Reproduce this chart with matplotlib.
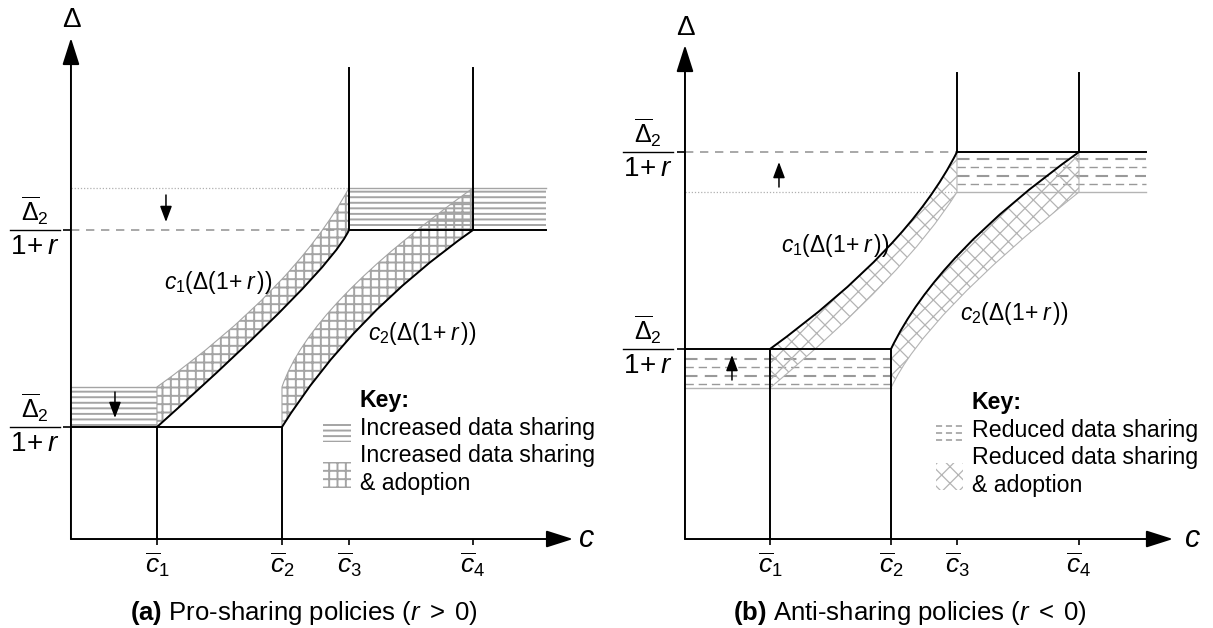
import matplotlib
matplotlib.use('Agg')
import matplotlib.pyplot as plt
from matplotlib.path import Path
from matplotlib.patches import PathPatch, Rectangle

plt.rcParams['font.family'] = 'Liberation Sans'
plt.rcParams['mathtext.fontset'] = 'custom'
plt.rcParams['mathtext.rm'] = 'Liberation Sans'
plt.rcParams['mathtext.it'] = 'Liberation Sans:italic'
plt.rcParams['mathtext.bf'] = 'Liberation Sans:bold'
plt.rcParams['hatch.linewidth'] = 1.4

# thresholds on the c axis
c_bars_a = [0.86, 2.11, 2.78, 4.02]
c_bars_b = [0.85, 2.06, 2.72, 3.94]
tick_labels = [r'$\overline{c}_1$', r'$\overline{c}_2$', r'$\overline{c}_3$', r'$\overline{c}_4$']

# Delta levels: [level drawn in black, shifted level in gray]
low_a = [1.12, 1.52]
high_a = [3.09, 3.51]
low_b = [1.90, 1.51]
high_b = [3.87, 3.47]

# dashed lines inside the "reduced data sharing" bands
dash_low_b = [1.80, 1.72, 1.63, 1.55]
dash_high_b = [3.80, 3.72, 3.63, 3.55]

# curves c1, c2 as quadratic beziers: start, control, end
c1_black_a = [(0.86, 1.12), (2.59, 2.67), (2.78, 3.09)]
c1_gray_a = [(0.86, 1.52), (2.23, 2.50), (2.78, 3.51)]
c2_black_a = [(2.11, 1.12), (2.81, 2.24), (4.02, 3.09)]
c2_gray_a = [(2.11, 1.52), (2.39, 2.35), (4.02, 3.51)]

c1_black_b = [(0.85, 1.90), (2.23, 2.90), (2.72, 3.87)]
c1_gray_b = [(0.85, 1.51), (2.21, 2.65), (2.72, 3.47)]
c2_black_b = [(2.06, 1.90), (2.52, 2.86), (3.94, 3.87)]
c2_gray_b = [(2.06, 1.51), (2.39, 2.23), (3.94, 3.47)]

BAND = '#a4a4a4'
XH = '#b4b4b4'
LW = 1.4


def curve(pts):
    return Path(pts, [Path.MOVETO, Path.CURVE3, Path.CURVE3])


def region(black, gray):
    verts = list(black) + [gray[2], gray[1], gray[0], black[0]]
    codes = [Path.MOVETO, Path.CURVE3, Path.CURVE3, Path.LINETO,
             Path.CURVE3, Path.CURVE3, Path.CLOSEPOLY]
    return Path(verts, codes)


def frame(ax, xmax, ymax, cb, levels):
    ax.set_xlim(0, xmax)
    ax.set_ylim(0, ymax)
    for s in ax.spines.values():
        s.set_visible(False)
    ax.set_xticks(cb)
    ax.set_xticklabels(tick_labels, fontsize=19)
    ax.set_yticks(levels)
    ax.set_yticklabels(['', ''])
    ax.tick_params(axis='x', length=4, width=1.2, pad=4)
    ax.tick_params(axis='y', length=6, width=1.2)
    arr = dict(arrowstyle='-|>,head_length=1.1,head_width=0.35', lw=LW,
               color='black', shrinkA=0, shrinkB=0, mutation_scale=15)
    ax.annotate('', xy=(xmax, 0), xytext=(0, 0), arrowprops=arr, annotation_clip=False)
    ax.annotate('', xy=(0, ymax), xytext=(0, 0), arrowprops=arr, annotation_clip=False)


def fraction(ax, y, x=-0.36):
    ax.text(x, y + 0.03, r'$\overline{\Delta}_2$', fontsize=18, ha='center', va='bottom')
    ax.plot([x - 0.25, x + 0.25], [y, y], color='black', lw=1.0, clip_on=False)
    ax.text(x, y - 0.04, r'$1\!+r$', fontsize=20, ha='center', va='top')


def small_arrow(ax, x, y0, y1):
    ax.annotate('', xy=(x, y1), xytext=(x, y0),
                arrowprops=dict(arrowstyle='-|>,head_length=0.8,head_width=0.3',
                                lw=1.1, color='black', shrinkA=0, shrinkB=0,
                                mutation_scale=12))


fig = plt.figure(figsize=(12.13, 6.28), dpi=100)

# ---------------- (a) pro-sharing ----------------
ax = fig.add_axes([0.0585, 0.1417, 0.4139, 0.7978])
xmax, ymax, top, end = 5.02, 5.01, 4.71, 4.75
c1, c2, c3, c4 = c_bars_a
frame(ax, xmax, ymax, c_bars_a, [low_a[0], high_a[0]])

ax.add_patch(Rectangle((0, low_a[0]), c1, low_a[1] - low_a[0], fill=False,
                       hatch='---', edgecolor=BAND, lw=0, zorder=1))
ax.add_patch(Rectangle((c3, high_a[0]), end - c3, high_a[1] - high_a[0], fill=False,
                       hatch='---', edgecolor=BAND, lw=0, zorder=1))
for blk, gry in [(c1_black_a, c1_gray_a), (c2_black_a, c2_gray_a)]:
    ax.add_patch(PathPatch(region(blk, gry), fill=False, hatch='++',
                           edgecolor=BAND, lw=0.8, zorder=1))
ax.plot([0, c1], [low_a[1]] * 2, color=BAND, lw=1.0, zorder=2)
ax.plot([c3, end], [high_a[1]] * 2, color=BAND, lw=1.0, zorder=2)
ax.plot([0, c3], [high_a[1]] * 2, color='#b0b0b0', lw=0.9, ls=(0, (1, 1.5)), zorder=2)
ax.plot([0, c3], [high_a[0]] * 2, color='#999999', lw=1.2, ls=(0, (5, 4)), zorder=2)

ax.plot([0, c2], [low_a[0]] * 2, color='black', lw=LW, zorder=3)
ax.plot([c1, c1], [0, low_a[0]], color='black', lw=LW, zorder=3)
ax.plot([c2, c2], [0, low_a[0]], color='black', lw=LW, zorder=3)
ax.plot([c3, end], [high_a[0]] * 2, color='black', lw=LW, zorder=3)
ax.plot([c3, c3], [high_a[0], top], color='black', lw=LW, zorder=3)
ax.plot([c4, c4], [high_a[0], top], color='black', lw=LW, zorder=3)
for blk in [c1_black_a, c2_black_a]:
    ax.add_patch(PathPatch(curve(blk), fill=False, edgecolor='black', lw=LW, zorder=3))

small_arrow(ax, 0.95, 3.44, 3.17)
small_arrow(ax, 0.44, 1.47, 1.21)
fraction(ax, high_a[0])
fraction(ax, low_a[0])
ax.text(0.01, ymax + 0.18, r'$\Delta$', fontsize=20, ha='center', va='center')
ax.text(xmax + 0.13, 0, r'$c$', fontsize=22, ha='center', va='center')
ax.text(1.47, 2.57, r'$c_1(\Delta(1\!+r\,))$', fontsize=16.5, ha='center', va='center')
ax.text(3.51, 2.06, r'$c_2(\Delta(1\!+r\,))$', fontsize=16.5, ha='center', va='center')

ax.text(2.89, 1.39, 'Key:', fontsize=16.7, fontweight='bold', va='center')
ax.add_patch(Rectangle((2.52, 0.97), 0.28, 0.19, fill=False, hatch='---',
                       edgecolor=BAND, lw=0))
ax.add_patch(Rectangle((2.52, 0.51), 0.28, 0.26, fill=False, hatch='++',
                       edgecolor=BAND, lw=0))
ax.text(2.89, 1.11, 'Increased data sharing', fontsize=16.7, va='center')
ax.text(2.89, 0.84, 'Increased data sharing', fontsize=16.7, va='center')
ax.text(2.89, 0.56, '& adoption', fontsize=16.7, va='center')
ax.text(2.33, -0.74, r'$\mathbf{(a)}$ Pro-sharing policies ($r\;>\;0$)', fontsize=18.5,
        ha='center', va='center')

# ---------------- (b) anti-sharing ----------------
ax = fig.add_axes([0.5647, 0.1417, 0.4023, 0.7866])
xmax, ymax, top, end = 4.88, 4.94, 4.66, 4.61
c1, c2, c3, c4 = c_bars_b
frame(ax, xmax, ymax, c_bars_b, [low_b[0], high_b[0]])

for i, y in enumerate(dash_low_b):
    ax.plot([0, c2], [y, y], color='#999999', lw=1.5 - 0.5 * (i % 2),
            ls=(0, (6, 3.5)), zorder=1)
for i, y in enumerate(dash_high_b):
    ax.plot([c3, end], [y, y], color='#999999', lw=1.5 - 0.5 * (i % 2),
            ls=(0, (6, 3.5)), zorder=1)
with plt.rc_context({'hatch.linewidth': 0.9}):
    for blk, gry in [(c1_black_b, c1_gray_b), (c2_black_b, c2_gray_b)]:
        ax.add_patch(PathPatch(region(blk, gry), fill=False, hatch='xx',
                               edgecolor=XH, lw=0.8, zorder=1.5))
    ax.add_patch(Rectangle((2.51, 0.49), 0.27, 0.27, fill=False, hatch='xx',
                           edgecolor=XH, lw=0))
ax.plot([0, c2], [low_b[1]] * 2, color=XH, lw=1.0, zorder=2)
ax.plot([c3, end], [high_b[1]] * 2, color=XH, lw=1.0, zorder=2)
ax.plot([0, c3], [high_b[1]] * 2, color='#b0b0b0', lw=0.9, ls=(0, (1, 1.5)), zorder=2)
ax.plot([0, c3], [high_b[0]] * 2, color='#999999', lw=1.2, ls=(0, (5, 4)), zorder=2)

ax.plot([0, c2], [low_b[0]] * 2, color='black', lw=LW, zorder=3)
ax.plot([c1, c1], [0, low_b[0]], color='black', lw=LW, zorder=3)
ax.plot([c2, c2], [0, low_b[0]], color='black', lw=LW, zorder=3)
ax.plot([c3, end], [high_b[0]] * 2, color='black', lw=LW, zorder=3)
ax.plot([c3, c3], [high_b[0], top], color='black', lw=LW, zorder=3)
ax.plot([c4, c4], [high_b[0], top], color='black', lw=LW, zorder=3)
for blk in [c1_black_b, c2_black_b]:
    ax.add_patch(PathPatch(curve(blk), fill=False, edgecolor='black', lw=LW, zorder=3))

small_arrow(ax, 0.94, 3.52, 3.77)
small_arrow(ax, 0.47, 1.59, 1.84)
fraction(ax, high_b[0], x=-0.37)
fraction(ax, low_b[0], x=-0.37)
ax.text(0.01, ymax + 0.17, r'$\Delta$', fontsize=20, ha='center', va='center')
ax.text(xmax + 0.19, 0, r'$c$', fontsize=22, ha='center', va='center')
ax.text(1.50, 2.94, r'$c_1(\Delta(1\!+r\,))$', fontsize=16.5, ha='center', va='center')
ax.text(3.29, 2.26, r'$c_2(\Delta(1\!+r\,))$', fontsize=16.5, ha='center', va='center')

ax.text(2.87, 1.37, 'Key:', fontsize=16.7, fontweight='bold', va='center')
for y in [1.13, 1.06, 0.99]:
    ax.plot([2.51, 2.78], [y, y], color='#999999', lw=1.1, ls=(0, (4, 2.5)))
ax.text(2.87, 1.09, 'Reduced data sharing', fontsize=16.7, va='center')
ax.text(2.87, 0.82, 'Reduced data sharing', fontsize=16.7, va='center')
ax.text(2.87, 0.54, '& adoption', fontsize=16.7, va='center')
ax.text(2.25, -0.74, r'$\mathbf{(b)}$ Anti-sharing policies ($r\;<\;0$)', fontsize=18.5,
        ha='center', va='center')

fig.savefig('out.png', dpi=100)
